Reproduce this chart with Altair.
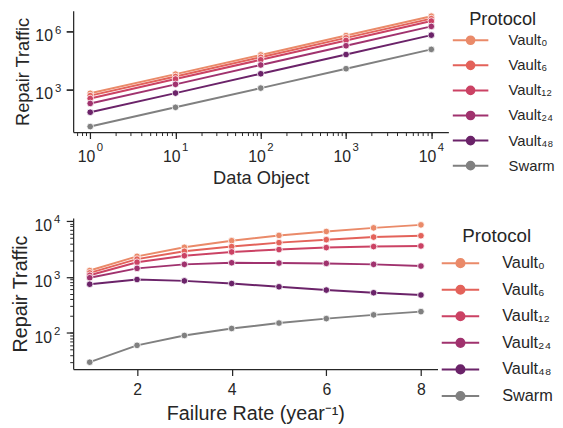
import math
import altair as alt
import pandas as pd

# ---------------- data ----------------
protocols = ["Vault₀", "Vault₆", "Vault₁₂", "Vault₂₄", "Vault₄₈", "Swarm"]
colors = ["#ea8a69", "#e3625a", "#cb4264", "#a0326e", "#6b2369", "#808080"]

data_objects = [1, 10, 100, 1000, 10000]
top_vault0 = [620, 6100, 61000, 620000, 6300000]
top_vault6 = [465, 4600, 46000, 470000, 4700000]
top_vault12 = [330, 3400, 34000, 345000, 3500000]
top_vault24 = [183, 1800, 18300, 183000, 1850000]
top_vault48 = [64, 630, 6400, 64000, 650000]
top_swarm = [11.5, 115, 1150, 11700, 118000]

failure_rates = [1, 2, 3, 4, 5, 6, 7, 8]
bot_vault0 = [1300, 2330, 3380, 4437, 5505, 6474, 7510, 8500]
bot_vault6 = [1180, 2080, 2870, 3479, 4093, 4624, 5140, 5432]
bot_vault12 = [1070, 1830, 2390, 2793, 3077, 3336, 3479, 3567]
bot_vault24 = [965, 1420, 1675, 1790, 1766, 1743, 1675, 1563]
bot_vault48 = [740, 898, 850, 762, 666, 582, 522, 475]
bot_swarm = [30, 60, 90, 120, 150, 180, 210, 240]

top_ticks_x = [1, 10, 100, 1000, 10000]
top_ticks_y = [1000, 1000000]
bot_ticks_x = [2, 4, 6, 8]
bot_ticks_y = [100, 1000, 10000]
exponents = {1: "0", 10: "1", 100: "2", 1000: "3", 10000: "4", 1000000: "6"}

TXT = "#262626"
FONT = "Liberation Sans"


def long_df(xs, series):
    rows = []
    for i, (p, vals) in enumerate(zip(protocols, series)):
        for x, v in zip(xs, vals):
            rows.append({"x": x, "y": v, "Protocol": p, "k": i})
    return pd.DataFrame(rows)


def log_domain(vals):
    lo, hi = math.log10(min(vals)), math.log10(max(vals))
    pad = 0.05 * (hi - lo)
    return [10 ** (lo - pad), 10 ** (hi + pad)]


def lin_domain(vals):
    lo, hi = min(vals), max(vals)
    pad = 0.05 * (hi - lo)
    return [lo - pad, hi + pad]


def minor_log(domain):
    out = []
    for e in range(-2, 9):
        for m in range(2, 10):
            v = m * 10 ** e
            if domain[0] <= v <= domain[1]:
                out.append(v)
    return out


def exp_expr(values):
    s = ""
    for v in values:
        s += f"datum.value == {v} ? '{exponents[v]}' : "
    return s + "''"


def legend(lab, tit, rowpad, titpad, lx, ly, size, off, loff):
    return alt.Legend(
        title="Protocol", orient="none", legendX=lx, legendY=ly,
        symbolType="M-3,0H3M0.65,0A0.65,0.65,0,1,1,-0.65,0A0.65,0.65,0,1,1,0.65,0Z",
        symbolSize=size, symbolStrokeWidth=2, symbolStrokeColor="#000000",
        symbolOffset=off, labelOffset=loff, labelFontSize=lab, titleFontSize=tit,
        titleFontWeight="normal", rowPadding=rowpad, titlePadding=titpad,
        titleAnchor="middle", labelColor=TXT, titleColor=TXT,
        labelFont=FONT, titleFont=FONT, padding=0, columnPadding=0,
    )


def base_axis(**kw):
    d = dict(grid=False, tickColor=TXT, domainColor=TXT, domainWidth=1.25,
             labelColor=TXT, titleColor=TXT, labelFont=FONT, titleFont=FONT,
             titleFontWeight="normal", labelFlush=False, labelOverlap=False)
    d.update(kw)
    return alt.Axis(**d)


def ten_axis(orient, values, title, titsize, pad, offset, titpad, tick=7):
    return base_axis(orient=orient, values=values, title=title, labelExpr="'10'",
                     tickSize=tick, tickWidth=1.25, labelFontSize=16,
                     titleFontSize=titsize, labelPadding=pad, labelOffset=offset,
                     titlePadding=titpad)


def exp_axis(orient, values, majors, tick, pad, offset, tickw=1):
    return base_axis(orient=orient, values=values, title=None,
                     labelExpr=exp_expr(majors), labelAlign="left",
                     labelFontSize=11.5, tickSize=tick, tickWidth=tickw,
                     domain=False, labelPadding=pad, labelOffset=offset)


def panel(df, xs, ys, x_a, x_b, y_a, y_b, leg, w, h):
    color = alt.Color("Protocol:N", scale=alt.Scale(domain=protocols, range=colors),
                      legend=leg)
    base = alt.Chart(df)
    lines = base.mark_line(strokeWidth=2).encode(
        x=alt.X("x:Q", scale=xs, axis=x_a),
        y=alt.Y("y:Q", scale=ys, axis=y_a),
        color=color,
        order="x:Q",
    )
    points = base.mark_point(filled=True, size=45, opacity=1, stroke="white",
                             strokeWidth=0.8).encode(
        x=alt.X("x:Q", scale=xs, axis=x_b),
        y=alt.Y("y:Q", scale=ys, axis=y_b),
        color=color,
    )
    return (alt.layer(lines, points)
            .resolve_axis(x="independent", y="independent")
            .properties(width=w, height=h))


top_df = long_df(data_objects, [top_vault0, top_vault6, top_vault12,
                                top_vault24, top_vault48, top_swarm])
tx_dom = log_domain(data_objects)
ty_dom = log_domain(list(top_df["y"]))
top = panel(
    top_df,
    alt.Scale(type="log", domain=tx_dom, nice=False),
    alt.Scale(type="log", domain=ty_dom, nice=False),
    ten_axis("bottom", top_ticks_x, "Data Object", 18.5, 10.5, -4.3, 4.5, tick=6.5),
    exp_axis("bottom", sorted(top_ticks_x + minor_log(tx_dom)), top_ticks_x, 3.5, 6.5, 6),
    ten_axis("left", top_ticks_y, "Repair Traffic", 18.5, 14, 4.5, 2),
    exp_axis("left", top_ticks_y, top_ticks_y, 7, 12, -1, tickw=1.25),
    legend(15, 18.5, 8.4, 4, 383, 0, 144, 12, 31),
    380, 123,
)

bot_df = long_df(failure_rates, [bot_vault0, bot_vault6, bot_vault12,
                                 bot_vault24, bot_vault48, bot_swarm])
bx_dom = lin_domain(failure_rates)
by_dom = log_domain(list(bot_df["y"]))
bottom = panel(
    bot_df,
    alt.Scale(type="linear", domain=bx_dom, nice=False, zero=False),
    alt.Scale(type="log", domain=by_dom, nice=False),
    base_axis(orient="bottom", values=bot_ticks_x, title="Failure Rate (year⁻¹)",
              format="d", tickSize=6.5, tickWidth=1.25, labelFontSize=16,
              titleFontSize=20, labelPadding=6, titlePadding=7),
    None,
    ten_axis("left", bot_ticks_y, "Repair Traffic", 20, 15, 4.5, 3),
    exp_axis("left", sorted(bot_ticks_y + minor_log(by_dom)), bot_ticks_y, 3.5, 16.5, -1),
    legend(16.5, 19, 9.9, 9.5, 373, 9, 160, 11, 34),
    369, 153,
)

chart = (alt.vconcat(top, bottom, spacing=26)
         .resolve_scale(color="independent")
         .properties(padding={"left": 3, "top": 0, "right": 0, "bottom": 0})
         .configure(font=FONT)
         .configure_view(stroke=None))

chart.save("out.html", embed_options={"renderer": "svg", "actions": False})
